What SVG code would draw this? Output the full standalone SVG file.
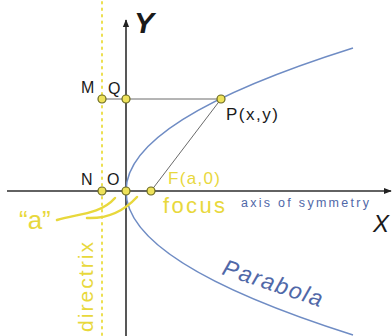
<svg xmlns="http://www.w3.org/2000/svg" width="392" height="336" viewBox="0 0 392 336">
<defs>
<style>
.axis{stroke:#2e2e2e;stroke-width:1.6;fill:none}
.guide{stroke:#6a6a6a;stroke-width:1;fill:none}
.curve{stroke:#6f8cc4;stroke-width:1.5;fill:none}
.dir{stroke:#ecdf50;stroke-width:2;stroke-dasharray:1.5 5;stroke-linecap:round;fill:none}
.pt{fill:#eee25a;stroke:#6b6a22;stroke-width:1.2}
.lbl{font-family:"Liberation Sans",Arial,sans-serif;fill:#1a1a1a;font-size:16px}
.yel{font-family:"Liberation Sans",Arial,sans-serif;fill:#e8d83c}
.blu{font-family:"Liberation Sans",Arial,sans-serif;fill:#5068a8}
</style>
<marker id="ah" viewBox="0 0 10 10" refX="9" refY="5" markerWidth="8" markerHeight="8" orient="auto" markerUnits="userSpaceOnUse">
<path d="M0,1 L10,5 L0,9 Z" fill="#222"/>
</marker>
</defs>
<rect width="392" height="336" fill="#ffffff"/>
<g id="connectors">
<line class="dir" x1="102" y1="2" x2="102" y2="336"/>
<line class="axis" x1="126" y1="336" x2="126" y2="20" marker-end="url(#ah)"/>
<line class="axis" x1="7" y1="191" x2="391" y2="191" marker-end="url(#ah)"/>
<line class="guide" x1="102" y1="99" x2="221" y2="99"/>
<line class="guide" x1="221" y1="99" x2="151" y2="191" stroke="#8a8a8a"/>
<path class="curve" d="M126,191 Q126,119.5 353,48"/>
<path class="curve" d="M126,191 Q126,263 353,335"/>
<path d="M57,220 C75,214 100,215 115,198 M87,218 C110,219 125,210 137,197" stroke="#e8d83c" stroke-width="2.5" fill="none" stroke-linecap="round"/>
</g>
<g id="axis-labels">
<text class="lbl" x="134" y="33" font-style="italic" font-weight="bold" style="font-size:30px">Y</text>
<text class="lbl" x="373" y="232" style="font-size:24px" font-style="italic">X</text>
<text class="blu" x="241" y="207" style="font-size:12.5px" textLength="128">axis of symmetry</text>
<text class="blu" x="0" y="0" style="font-size:23px" font-style="italic" textLength="104" transform="translate(221,274) rotate(18.5)">Parabola</text>
</g>
<g id="node-M"><circle class="pt" cx="102" cy="99" r="4"/><text class="lbl" x="81" y="93">M</text></g>
<g id="node-Q"><circle class="pt" cx="126" cy="99" r="4"/><text class="lbl" x="108" y="94">Q</text></g>
<g id="node-P"><circle class="pt" cx="221" cy="99" r="4"/><text class="lbl" x="226" y="120" style="font-size:17px" textLength="52">P(x,y)</text></g>
<g id="node-N"><circle class="pt" cx="102" cy="191" r="4"/><text class="lbl" x="81" y="185">N</text></g>
<g id="node-O"><circle class="pt" cx="126" cy="191" r="4"/><text class="lbl" x="107" y="185">O</text></g>
<g id="node-F"><circle class="pt" cx="151" cy="191" r="4"/><text class="yel" x="168" y="184" style="font-size:17px" textLength="52">F(a,0)</text><text class="yel" x="163" y="213" style="font-size:22px" textLength="62">focus</text></g>
<g id="label-a"><text class="yel" x="19" y="229" style="font-size:26px">“a”</text></g>
<g id="label-directrix"><text class="yel" x="0" y="0" style="font-size:21px" textLength="90" transform="translate(93,332) rotate(-90)">directrix</text></g>
</svg>
